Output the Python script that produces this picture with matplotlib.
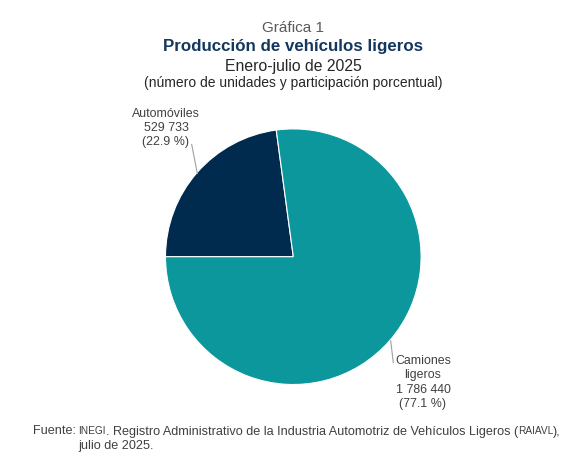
import matplotlib.pyplot as plt

plt.rcParams['font.family'] = ['Liberation Sans', 'DejaVu Sans']

# datos
categorias = ["Automóviles", "Camiones\nligeros"]
unidades = [529733, 1786440]
colores = ["#002b4f", "#0b979c"]

W, H = 582, 466
fig = plt.figure(figsize=(W / 100, H / 100), dpi=100)

# pastel: centro (293, 257) px, radio ~128 px
cx, cy, r = 293.3, 256.7, 127.8
ax = fig.add_axes([(cx - r) / W, 1 - (cy + r) / H, 2 * r / W, 2 * r / H])
ax.pie(unidades, colors=colores, startangle=180, counterclock=False,
       wedgeprops=dict(edgecolor="white", linewidth=0.8))
ax.set_xlim(-1, 1)
ax.set_ylim(-1, 1)
ax.set_aspect("equal")
ax.axis("off")


def px(x, y):
    # pixeles de la imagen -> coordenadas del eje
    return (x - cx) / r, (cy - y) / r


total = sum(unidades)
etiquetas = []
for cat, v in zip(categorias, unidades):
    num = f"{v:,}".replace(",", " ")
    etiquetas.append(f"{cat}\n{num}\n({v / total * 100:.1f} %)")

gris = "#404040"
# Automóviles
ax.text(*px(166, 128), etiquetas[0], ha="center", va="center", fontsize=8.9,
        color=gris, linespacing=1.25)
ax.plot(*zip(px(191.7, 144.5), px(197.3, 173.5)), color="#a0a0a0", lw=0.8,
        clip_on=False)
# Camiones ligeros
ax.text(*px(423, 382.5), etiquetas[1], ha="center", va="center", fontsize=8.9,
        color=gris, linespacing=1.25)
ax.plot(*zip(px(390.7, 340.7), px(393.3, 362.7)), color="#a0a0a0", lw=0.8,
        clip_on=False)

# titulos
fig.text(293 / W, 1 - 28 / H, "Gráfica 1", ha="center", va="center",
         fontsize=11, color="#595959")
fig.text(293 / W, 1 - 47 / H, "Producción de vehículos ligeros", ha="center",
         va="center", fontsize=12.2, fontweight="bold", color="#14375e")
fig.text(293 / W, 1 - 66 / H, "Enero-julio de 2025", ha="center", va="center",
         fontsize=11.3, color="#262626")
fig.text(293 / W, 1 - 83 / H, "(número de unidades y participación porcentual)",
         ha="center", va="center", fontsize=10, color="#262626")

# fuente, con versalitas para las siglas
fs = 9.1
base1 = 1 - 434.5 / H
base2 = 1 - 449 / H
fig.text(32.7 / W, base1, "Fuente:", va="baseline", fontsize=fs, color=gris)
partes = [("INEGI", fs * 0.8),
          (". Registro Administrativo de la Industria Automotriz de Vehículos Ligeros (", fs),
          ("RAIAVL", fs * 0.8), ("),", fs)]
rend = fig.canvas.get_renderer()
x = 78
for texto, tam in partes:
    t = fig.text(x / W, base1, texto, va="baseline", fontsize=tam, color=gris)
    x = t.get_window_extent(rend).x1
fig.text(78 / W, base2, "julio de 2025.", va="baseline", fontsize=fs,
         color=gris)

fig.savefig("out.png", dpi=100)
